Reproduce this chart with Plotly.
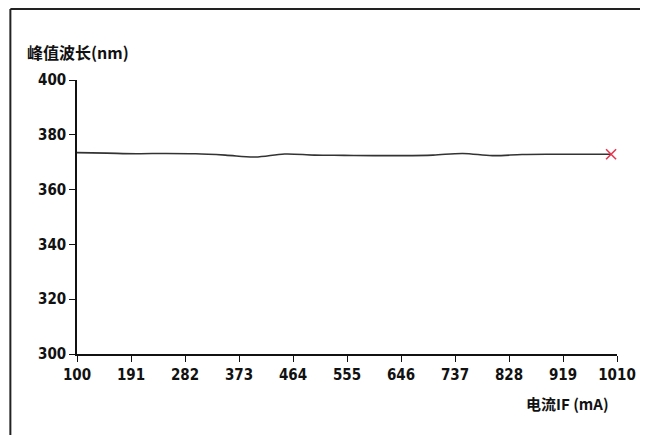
import plotly.graph_objects as go

current_ma = [100, 150, 200, 250, 300, 350, 400, 450, 500, 550, 600, 650,
              700, 750, 800, 850, 900, 950, 1000]
peak_nm = [373.5, 373.3, 373.1, 373.2, 373.1, 372.6, 371.9, 373.0, 372.6,
           372.5, 372.4, 372.4, 372.6, 373.2, 372.4, 372.8, 372.9, 372.9, 372.9]
x_ticks = [100, 191, 282, 373, 464, 555, 646, 737, 828, 919, 1010]
y_ticks = [300, 320, 340, 360, 380, 400]

tick_font = dict(family="Liberation Sans Narrow, DejaVu Sans Condensed, Liberation Sans",
                 size=15, color="#111111")

fig = go.Figure()
fig.add_trace(go.Scatter(x=current_ma, y=peak_nm, mode="lines",
                         line=dict(color="#333333", width=1.6, shape="spline"),
                         showlegend=False, hoverinfo="skip"))
fig.add_trace(go.Scatter(x=[current_ma[-1]], y=[peak_nm[-1]], mode="markers",
                         marker=dict(symbol="x-thin", size=10,
                                     line=dict(color="#e8344e", width=1.6)),
                         showlegend=False, hoverinfo="skip"))

fig.update_layout(
    width=640, height=427,
    margin=dict(l=69, r=28, t=72, b=81),
    paper_bgcolor="white", plot_bgcolor="white",
    font=tick_font,
    xaxis=dict(range=[100, 1010], tickvals=x_ticks,
               ticktext=["<b>%d</b>" % v for v in x_ticks],
               showgrid=False, zeroline=False, showline=True, linecolor="#111111",
               linewidth=1.5, ticks="outside", ticklen=6, tickcolor="#111111",
               tickfont=tick_font),
    yaxis=dict(range=[300, 400], tickvals=y_ticks,
               ticktext=["<b>%d</b>" % v for v in y_ticks],
               showgrid=False, zeroline=False, showline=True, linecolor="#111111",
               linewidth=1.5, ticks="outside", ticklen=6, tickcolor="#111111",
               tickfont=tick_font),
)

fig.add_annotation(xref="paper", yref="paper", x=(25 - 77) / 543, y=(354 - 52) / 274,
                   xanchor="left", yanchor="middle", showarrow=False,
                   text="<b>峰值波长(nm)</b>",
                   font=dict(family="Noto Sans CJK SC", size=16, color="#111111"))
fig.add_annotation(xref="paper", yref="paper", x=(614 - 77) / 543, y=(354 - 403) / 274,
                   xanchor="right", yanchor="middle", showarrow=False,
                   text="<b>电流IF (mA)</b>",
                   font=dict(family="Noto Sans CJK SC", size=15, color="#111111"))

# outer frame
frame = dict(color="#222222", width=2)
fig.add_shape(type="line", xref="paper", yref="paper",
              x0=(10 - 77) / 543, x1=(644 - 77) / 543,
              y0=(354 - 9) / 274, y1=(354 - 9) / 274, line=frame)
fig.add_shape(type="line", xref="paper", yref="paper",
              x0=(10 - 77) / 543, x1=(10 - 77) / 543,
              y0=(354 - 9) / 274, y1=(354 - 440) / 274, line=frame)
fig.add_shape(type="line", xref="paper", yref="paper",
              x0=(644 - 77) / 543, x1=(644 - 77) / 543,
              y0=(354 - 9) / 274, y1=(354 - 440) / 274,
              line=dict(color="#333333", width=1.5))

fig.write_html("out.html")
